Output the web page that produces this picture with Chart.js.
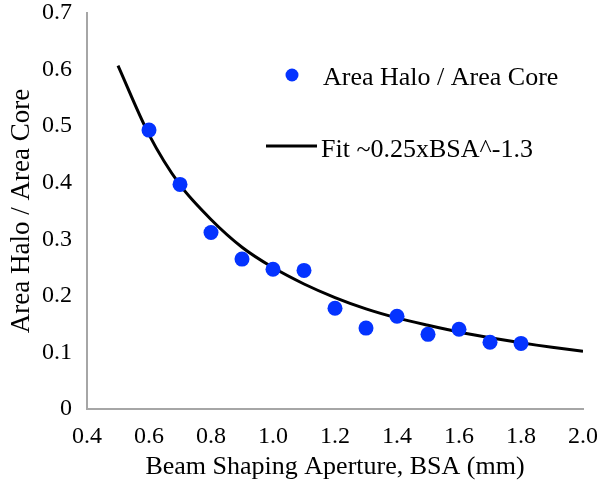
<!DOCTYPE html>
<html>
<head>
<meta charset="utf-8">
<script src="https://cdn.jsdelivr.net/npm/chart.js@4.4.1/dist/chart.umd.min.js"></script>
<style>
  html, body { margin: 0; padding: 0; background: #fff; }
  #wrap { width: 597px; height: 492px; position: relative; }
</style>
</head>
<body>
<div id="wrap"><canvas id="chart"></canvas></div>
<script>
// measured points
const bsaMeasured = [0.6, 0.7, 0.8, 0.9, 1.0, 1.1, 1.2, 1.3, 1.4, 1.5, 1.6, 1.7, 1.8];
const haloRatio   = [0.493, 0.397, 0.312, 0.265, 0.247, 0.245, 0.178, 0.143, 0.164, 0.132, 0.141, 0.118, 0.116];

// fit curve
const bsaFit = [0.5, 0.6, 0.7, 0.8, 0.9, 1.0, 1.1, 1.2, 1.3, 1.4, 1.5, 1.6, 1.7, 1.8, 1.9, 2.0];
const fitVal = [0.607, 0.485, 0.396, 0.335, 0.286, 0.250, 0.221, 0.197, 0.177, 0.161, 0.148, 0.136, 0.126, 0.117, 0.109, 0.102];

const xTicks = [0.4, 0.6, 0.8, 1.0, 1.2, 1.4, 1.6, 1.8, 2.0];
const yTicks = [0, 0.1, 0.2, 0.3, 0.4, 0.5, 0.6, 0.7];

const SERIF = '"Liberation Serif", "Times New Roman", serif';
const AXIS_GREY = '#a6a6a6';

// legend drawn inside the plot like the original
const insideLegend = {
  id: 'insideLegend',
  afterDraw(chart) {
    const ctx = chart.ctx;
    const ds = chart.data.datasets;
    ctx.save();
    ctx.font = '26px ' + SERIF;
    ctx.textBaseline = 'middle';
    // marker entry
    ctx.beginPath();
    ctx.arc(292, 75, 6.5, 0, Math.PI * 2);
    ctx.fillStyle = '#0433ff';
    ctx.fill();
    ctx.fillStyle = '#000';
    ctx.fillText(ds[0].label, 323, 78);
    // line entry
    ctx.beginPath();
    ctx.moveTo(266, 146);
    ctx.lineTo(317, 146);
    ctx.lineWidth = 3;
    ctx.strokeStyle = '#000';
    ctx.stroke();
    ctx.fillText(ds[1].label, 321, 150);
    ctx.restore();
  }
};

new Chart(document.getElementById('chart'), {
  type: 'scatter',
  data: {
    datasets: [
      {
        label: 'Area Halo / Area Core',
        data: bsaMeasured.map((x, i) => ({ x, y: haloRatio[i] })),
        backgroundColor: '#0433ff',
        borderColor: '#0433ff',
        pointRadius: 7.5,
        pointBorderWidth: 0,
        showLine: false,
        order: 1
      },
      {
        label: 'Fit ~0.25xBSA^-1.3',
        data: bsaFit.map((x, i) => ({ x, y: fitVal[i] })),
        borderColor: '#000',
        borderWidth: 3,
        pointRadius: 0,
        showLine: true,
        tension: 0.3,
        order: 2
      }
    ]
  },
  options: {
    responsive: true,
    maintainAspectRatio: false,
    animation: false,
    layout: { padding: { top: 13, right: 14, left: 0, bottom: 0 } },
    plugins: { legend: { display: false }, tooltip: { enabled: false } },
    scales: {
      x: {
        type: 'linear', min: 0.4, max: 2.0,
        afterBuildTicks: s => { s.ticks = xTicks.map(v => ({ value: v })); },
        afterFit: s => { s.height = 83; s.paddingLeft = 0; s.paddingRight = 0; },
        grid: { display: false, drawTicks: true, tickLength: 7, tickColor: AXIS_GREY },
        border: { color: AXIS_GREY, width: 2 },
        ticks: { color: '#000', font: { family: SERIF, size: 24 }, padding: 6, maxRotation: 0,
                 callback: v => v.toFixed(1) },
        title: { display: true, text: 'Beam Shaping Aperture, BSA (mm)', color: '#000',
                 font: { family: SERIF, size: 26 }, padding: { top: 4, bottom: 9 } }
      },
      y: {
        type: 'linear', min: 0, max: 0.7,
        afterBuildTicks: s => { s.ticks = yTicks.map(v => ({ value: v })); },
        afterFit: s => { s.width = 87; s.paddingTop = 0; s.paddingBottom = 0; },
        grid: { display: false, drawTicks: true, tickLength: 7, tickColor: AXIS_GREY },
        border: { color: AXIS_GREY, width: 2 },
        ticks: { color: '#000', font: { family: SERIF, size: 24 }, padding: 8,
                 callback: v => v === 0 ? '0' : v.toFixed(1) },
        title: { display: true, text: 'Area Halo / Area Core', color: '#000',
                 font: { family: SERIF, size: 27 }, padding: { top: 6, bottom: 4 } }
      }
    }
  },
  plugins: [insideLegend]
});
</script>
</body>
</html>
